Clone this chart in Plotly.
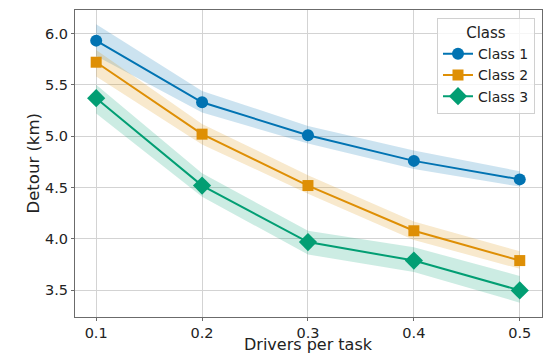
import plotly.graph_objects as go

# Drivers per task (x) and mean detour per class, with band bounds
drivers = [0.1, 0.2, 0.3, 0.4, 0.5]

class1_mean = [5.93, 5.33, 5.01, 4.76, 4.58]
class1_low = [5.78, 5.23, 4.93, 4.68, 4.51]
class1_high = [6.09, 5.44, 5.10, 4.86, 4.66]

class2_mean = [5.72, 5.02, 4.52, 4.08, 3.79]
class2_low = [5.58, 4.92, 4.44, 3.99, 3.71]
class2_high = [5.84, 5.12, 4.62, 4.17, 3.88]

class3_mean = [5.37, 4.52, 3.97, 3.79, 3.50]
class3_low = [5.22, 4.41, 3.85, 3.68, 3.38]
class3_high = [5.50, 4.64, 4.08, 3.92, 3.64]

series = [
    ("Class 1", class1_mean, class1_low, class1_high, "#0173b2", "rgba(1,115,178,0.2)", "circle", 12),
    ("Class 2", class2_mean, class2_low, class2_high, "#de8f05", "rgba(222,143,5,0.2)", "square", 11),
    ("Class 3", class3_mean, class3_low, class3_high, "#029e73", "rgba(2,158,115,0.2)", "diamond", 14),
]

fig = go.Figure()

for name, mean, low, high, color, fill, symbol, size in series:
    fig.add_trace(go.Scatter(
        x=drivers + drivers[::-1],
        y=high + low[::-1],
        fill="toself",
        fillcolor=fill,
        line=dict(width=0),
        mode="lines",
        hoverinfo="skip",
        showlegend=False,
    ))

for name, mean, low, high, color, fill, symbol, size in series:
    fig.add_trace(go.Scatter(
        x=drivers,
        y=mean,
        mode="lines+markers",
        name=name,
        line=dict(color=color, width=2),
        marker=dict(symbol=symbol, size=size, color=color),
    ))

axis_common = dict(
    showgrid=True,
    gridcolor="#d3d3d3",
    gridwidth=1,
    showline=True,
    linecolor="#6b6b6b",
    linewidth=1,
    mirror=True,
    ticks="outside",
    ticklen=3,
    tickcolor="#6b6b6b",
    tickfont=dict(size=14.5, color="#222222"),
    zeroline=False,
    automargin=False,
)

# plot area in pixels
PLOT_TOP, PLOT_BOTTOM, PLOT_LEFT, PLOT_RIGHT = 10, 317, 75, 542

fig.update_layout(
    width=545,
    height=355,
    margin=dict(l=PLOT_LEFT, r=545 - PLOT_RIGHT, t=PLOT_TOP, b=355 - PLOT_BOTTOM),
    paper_bgcolor="white",
    plot_bgcolor="white",
    font=dict(family="DejaVu Sans", color="#222222"),
    xaxis=dict(
        range=[0.08, 0.521],
        tickvals=[0.1, 0.2, 0.3, 0.4, 0.5],
        ticktext=["0.1", "0.2", "0.3", "0.4", "0.5"],
        **axis_common,
    ),
    yaxis=dict(
        range=[3.241, 6.228],
        tickvals=[3.5, 4.0, 4.5, 5.0, 5.5, 6.0],
        ticktext=["3.5", "4.0", "4.5", "5.0", "5.5", "6.0"],
        **axis_common,
    ),
    legend=dict(
        title=dict(text="Class", font=dict(size=15), side="top center"),
        font=dict(size=14),
        x=0.985,
        y=0.975,
        xanchor="right",
        yanchor="top",
        bgcolor="rgba(255,255,255,0.8)",
        bordercolor="#d0d0d0",
        borderwidth=1,
        tracegroupgap=0,
        itemwidth=30,
    ),
)

plot_h = PLOT_BOTTOM - PLOT_TOP
plot_w = PLOT_RIGHT - PLOT_LEFT

fig.add_annotation(
    text="Drivers per task",
    xref="paper", yref="paper",
    x=0.5, y=(PLOT_BOTTOM - 355) / plot_h,
    xanchor="center", yanchor="bottom",
    borderpad=0,
    showarrow=False,
    font=dict(size=16, color="#222222"),
)
fig.add_annotation(
    text="Detour (km)",
    xref="paper", yref="paper",
    x=(33 - PLOT_LEFT) / plot_w, y=0.5,
    xanchor="center", yanchor="middle",
    textangle=-90,
    showarrow=False,
    font=dict(size=16.5, color="#222222"),
)

fig.write_html("out.html")
